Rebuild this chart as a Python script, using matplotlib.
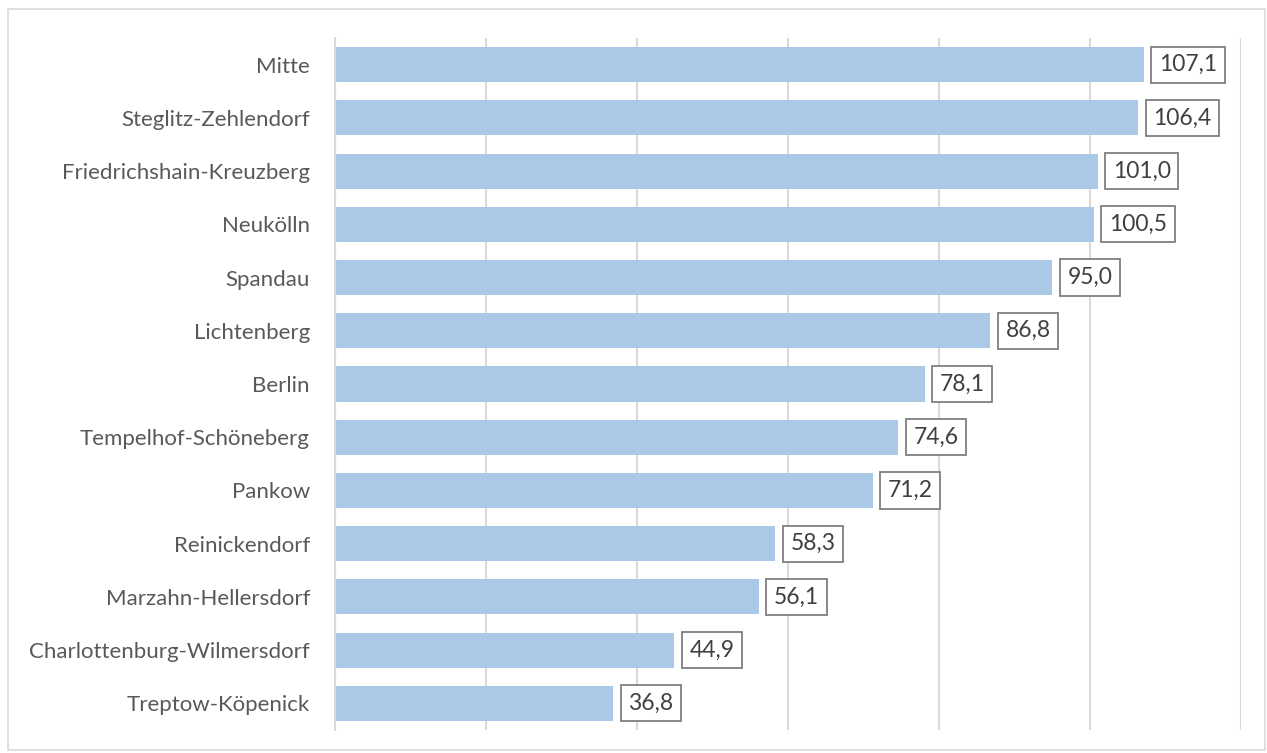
import matplotlib
matplotlib.use('Agg')
import matplotlib.pyplot as plt
from matplotlib.patches import Rectangle

# Bezirke und Werte
bezirke = ['Mitte', 'Steglitz-Zehlendorf', 'Friedrichshain-Kreuzberg', 'Neukölln',
           'Spandau', 'Lichtenberg', 'Berlin', 'Tempelhof-Schöneberg', 'Pankow',
           'Reinickendorf', 'Marzahn-Hellersdorf', 'Charlottenburg-Wilmersdorf',
           'Treptow-Köpenick']
werte = [107.1, 106.4, 101.0, 100.5, 95.0, 86.8, 78.1, 74.6, 71.2, 58.3, 56.1, 44.9, 36.8]
x_ticks = [0, 20, 40, 60, 80, 100, 120]

plt.rcParams['font.family'] = ['Lato', 'DejaVu Sans']

fig = plt.figure(figsize=(12.67, 7.53), dpi=100)
ax = fig.add_axes([335 / 1267, 1 - 730 / 753, (1241 - 335) / 1267, (730 - 38) / 753])

y = list(range(len(bezirke)))
ax.barh(y, werte, height=0.66, color='#a9c9e7', zorder=2)
ax.set_ylim(len(bezirke) - 0.5, -0.5)
ax.set_xlim(0, 120)
ax.set_xticks(x_ticks)
ax.set_xticklabels([])
ax.tick_params(axis='x', length=0)
ax.tick_params(axis='y', length=0, pad=18, labelsize=16, labelcolor='#595959')
ax.set_yticks(y)
ax.set_yticklabels(bezirke)
ax.grid(axis='x', color='#d9d9d9', linewidth=1.5, zorder=0)
for s in ['top', 'right', 'bottom']:
    ax.spines[s].set_visible(False)
ax.spines['left'].set_color('#d9d9d9')
ax.spines['left'].set_linewidth(1.5)

for yi, v in zip(y, werte):
    ax.annotate(f"{v:.1f}".replace('.', ','), xy=(v, yi), xytext=(11, 0),
                textcoords='offset points', ha='left', va='center',
                fontsize=16.5, color='#404040', zorder=3,
                bbox=dict(boxstyle='square,pad=0.33', facecolor='white',
                          edgecolor='#7f7f7f', linewidth=1.3))

# Rahmen um die Grafik
fig.patches.append(Rectangle((8 / 1267, 3 / 753), 1 - 10 / 1267, 1 - 12 / 753,
                             transform=fig.transFigure, fill=False,
                             edgecolor='#d9d9d9', linewidth=1.2))

fig.savefig('out.png', dpi=100)
